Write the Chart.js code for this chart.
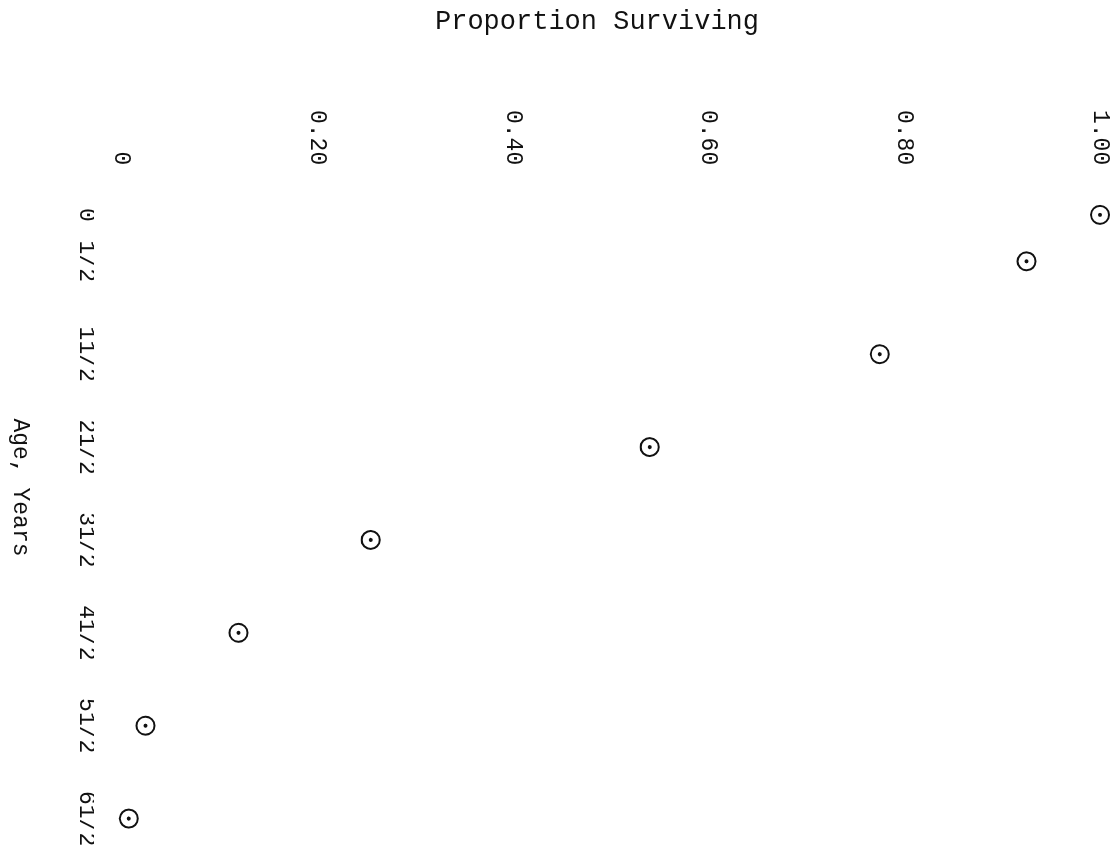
<!DOCTYPE html>
<html lang="en">

<head>
    <meta charset="UTF-8">
    <title>Proportion Surviving</title>
    <script src="https://cdn.jsdelivr.net/npm/chart.js"></script>
    <style>
        html, body {
            margin: 0;
            padding: 0;
            background: #ffffff;
            overflow: hidden;
        }

        /* the typed sheet is turned a quarter turn clockwise */
        .page {
            position: absolute;
            left: 0;
            top: 0;
            width: 858px;
            height: 1119px;
            transform-origin: 0 0;
            transform: translate(1119px, 0) rotate(90deg);
        }
    </style>
</head>

<body>

    <div class="page">
        <canvas id="survivalChart" width="858" height="1119"></canvas>
    </div>

    <script>
        const ages = [0, 0.5, 1.5, 2.5, 3.5, 4.5, 5.5, 6.5];
        const ageLabels = ['0', '1/2', '11/2', '21/2', '31/2', '41/2', '51/2', '61/2'];
        const surviving = [1.00, 0.925, 0.775, 0.54, 0.255, 0.12, 0.025, 0.008];
        const proportionTicks = [0, 0.2, 0.4, 0.6, 0.8, 1.0];
        const proportionLabels = ['0', '0.20', '0.40', '0.60', '0.80', '1.00'];

        const INK = '#111111';
        const TYPE = 'Liberation Mono, monospace';

        const points = ages.map((a, i) => ({ x: a, y: surviving[i] }));

        const ctx = document.getElementById('survivalChart').getContext('2d');
        new Chart(ctx, {
            type: 'scatter',
            data: {
                datasets: [{
                    // open ring
                    data: points,
                    pointStyle: 'circle',
                    pointRadius: 9,
                    pointHoverRadius: 9,
                    pointBorderWidth: 2,
                    borderColor: INK,
                    backgroundColor: 'rgba(0,0,0,0)',
                    clip: false
                }, {
                    // centre dot
                    data: points,
                    pointRadius: 2,
                    pointHoverRadius: 2,
                    pointBorderWidth: 0,
                    backgroundColor: INK,
                    clip: false
                }]
            },
            options: {
                responsive: false,
                animation: false,
                events: [],
                layout: {
                    padding: { top: 19, right: 10, left: 0, bottom: 0 }
                },
                plugins: {
                    legend: { display: false },
                    tooltip: { enabled: false }
                },
                scales: {
                    x: {
                        type: 'linear',
                        position: 'bottom',
                        min: -0.9355,
                        max: 6.806,
                        grid: { display: false, drawTicks: false },
                        border: { display: false },
                        afterFit: s => { s.height = 94; },
                        afterBuildTicks: s => { s.ticks = ages.map(v => ({ value: v })); },
                        ticks: {
                            autoSkip: false,
                            maxRotation: 0,
                            minRotation: 0,
                            padding: -6,
                            color: INK,
                            font: { family: TYPE, size: 23 },
                            callback: (v, i) => ageLabels[i]
                        },
                        title: {
                            display: true,
                            text: 'Age, Years',
                            color: INK,
                            font: { family: TYPE, size: 23 },
                            padding: { top: 0, bottom: 6 }
                        }
                    },
                    y: {
                        type: 'linear',
                        position: 'left',
                        min: -0.0276,
                        max: 1,
                        grid: { display: false, drawTicks: false },
                        border: { display: false },
                        afterFit: s => { s.width = 128; },
                        afterBuildTicks: s => { s.ticks = proportionTicks.map(v => ({ value: v })); },
                        ticks: {
                            autoSkip: false,
                            mirror: true,
                            crossAlign: 'far',
                            padding: -18,
                            color: INK,
                            font: { family: TYPE, size: 23 },
                            callback: (v, i) => proportionLabels[i]
                        },
                        title: {
                            display: true,
                            text: 'Proportion Surviving',
                            color: INK,
                            font: { family: TYPE, size: 27 },
                            padding: { top: 6, bottom: 0 }
                        }
                    }
                }
            }
        });
    </script>

</body>

</html>
